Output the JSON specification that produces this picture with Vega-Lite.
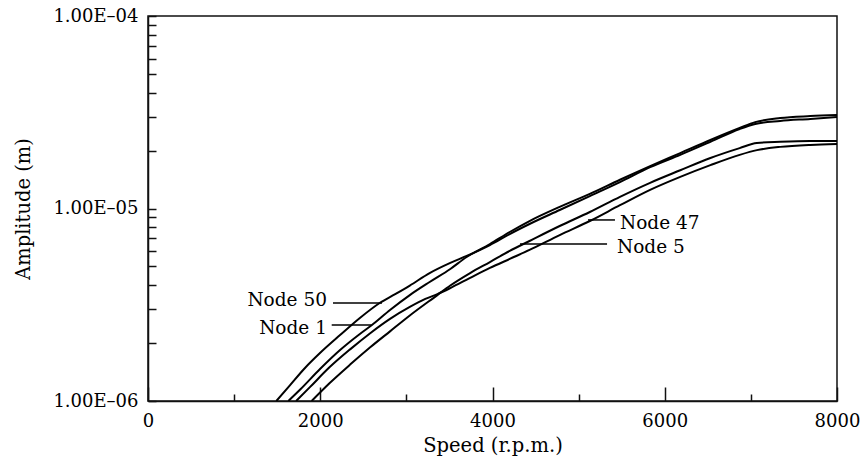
{
  "$schema": "https://vega.github.io/schema/vega-lite/v6.json",
  "width": 689,
  "height": 385,
  "autosize": "none",
  "padding": {"left": 148, "top": 16, "right": 24, "bottom": 64},
  "background": "white",
  "config": {
    "view": {"stroke": "#111", "strokeWidth": 1.5},
    "font": "DejaVu Serif",
    "text": {"font": "DejaVu Serif"},
    "axis": {
      "grid": false,
      "domainColor": "#111",
      "domainWidth": 1.5,
      "tickColor": "#111",
      "tickWidth": 1.5,
      "labelColor": "black",
      "titleColor": "black",
      "labelFont": "DejaVu Serif",
      "titleFont": "DejaVu Serif",
      "labelFontSize": 18,
      "titleFontSize": 19.5,
      "titleFontWeight": "normal",
      "labelOverlap": false,
      "labelBound": false,
      "labelFlush": false
    }
  },
  "datasets": {
    "curves": [
      {"node": "Node 50", "speed": 1490, "amplitude": 1.00e-6},
      {"node": "Node 50", "speed": 1650, "amplitude": 1.21e-6},
      {"node": "Node 50", "speed": 1820, "amplitude": 1.48e-6},
      {"node": "Node 50", "speed": 2000, "amplitude": 1.78e-6},
      {"node": "Node 50", "speed": 2230, "amplitude": 2.20e-6},
      {"node": "Node 50", "speed": 2460, "amplitude": 2.70e-6},
      {"node": "Node 50", "speed": 2690, "amplitude": 3.23e-6},
      {"node": "Node 50", "speed": 2870, "amplitude": 3.59e-6},
      {"node": "Node 50", "speed": 3040, "amplitude": 3.98e-6},
      {"node": "Node 50", "speed": 3270, "amplitude": 4.62e-6},
      {"node": "Node 50", "speed": 3510, "amplitude": 5.22e-6},
      {"node": "Node 50", "speed": 3700, "amplitude": 5.67e-6},
      {"node": "Node 50", "speed": 3970, "amplitude": 6.46e-6},
      {"node": "Node 50", "speed": 4200, "amplitude": 7.37e-6},
      {"node": "Node 50", "speed": 4430, "amplitude": 8.31e-6},
      {"node": "Node 50", "speed": 4780, "amplitude": 9.82e-6},
      {"node": "Node 50", "speed": 5130, "amplitude": 1.16e-5},
      {"node": "Node 50", "speed": 5480, "amplitude": 1.37e-5},
      {"node": "Node 50", "speed": 5830, "amplitude": 1.64e-5},
      {"node": "Node 50", "speed": 6180, "amplitude": 1.90e-5},
      {"node": "Node 50", "speed": 6530, "amplitude": 2.22e-5},
      {"node": "Node 50", "speed": 6870, "amplitude": 2.59e-5},
      {"node": "Node 50", "speed": 7050, "amplitude": 2.75e-5},
      {"node": "Node 50", "speed": 7340, "amplitude": 2.85e-5},
      {"node": "Node 50", "speed": 7690, "amplitude": 2.92e-5},
      {"node": "Node 50", "speed": 8000, "amplitude": 2.99e-5},
      {"node": "Node 1", "speed": 1630, "amplitude": 1.00e-6},
      {"node": "Node 1", "speed": 1770, "amplitude": 1.15e-6},
      {"node": "Node 1", "speed": 2000, "amplitude": 1.47e-6},
      {"node": "Node 1", "speed": 2230, "amplitude": 1.84e-6},
      {"node": "Node 1", "speed": 2460, "amplitude": 2.23e-6},
      {"node": "Node 1", "speed": 2600, "amplitude": 2.48e-6},
      {"node": "Node 1", "speed": 2810, "amplitude": 2.97e-6},
      {"node": "Node 1", "speed": 3040, "amplitude": 3.55e-6},
      {"node": "Node 1", "speed": 3270, "amplitude": 4.15e-6},
      {"node": "Node 1", "speed": 3510, "amplitude": 4.85e-6},
      {"node": "Node 1", "speed": 3700, "amplitude": 5.60e-6},
      {"node": "Node 1", "speed": 3970, "amplitude": 6.54e-6},
      {"node": "Node 1", "speed": 4200, "amplitude": 7.55e-6},
      {"node": "Node 1", "speed": 4430, "amplitude": 8.61e-6},
      {"node": "Node 1", "speed": 4780, "amplitude": 1.02e-5},
      {"node": "Node 1", "speed": 5130, "amplitude": 1.19e-5},
      {"node": "Node 1", "speed": 5480, "amplitude": 1.41e-5},
      {"node": "Node 1", "speed": 5830, "amplitude": 1.66e-5},
      {"node": "Node 1", "speed": 6180, "amplitude": 1.94e-5},
      {"node": "Node 1", "speed": 6530, "amplitude": 2.27e-5},
      {"node": "Node 1", "speed": 6870, "amplitude": 2.62e-5},
      {"node": "Node 1", "speed": 7050, "amplitude": 2.81e-5},
      {"node": "Node 1", "speed": 7340, "amplitude": 2.95e-5},
      {"node": "Node 1", "speed": 7690, "amplitude": 3.02e-5},
      {"node": "Node 1", "speed": 8000, "amplitude": 3.06e-5},
      {"node": "Node 47", "speed": 1720, "amplitude": 1.00e-6},
      {"node": "Node 47", "speed": 1880, "amplitude": 1.18e-6},
      {"node": "Node 47", "speed": 2110, "amplitude": 1.50e-6},
      {"node": "Node 47", "speed": 2350, "amplitude": 1.86e-6},
      {"node": "Node 47", "speed": 2580, "amplitude": 2.25e-6},
      {"node": "Node 47", "speed": 2810, "amplitude": 2.67e-6},
      {"node": "Node 47", "speed": 3040, "amplitude": 3.08e-6},
      {"node": "Node 47", "speed": 3220, "amplitude": 3.39e-6},
      {"node": "Node 47", "speed": 3360, "amplitude": 3.59e-6},
      {"node": "Node 47", "speed": 3510, "amplitude": 3.86e-6},
      {"node": "Node 47", "speed": 3740, "amplitude": 4.36e-6},
      {"node": "Node 47", "speed": 3970, "amplitude": 4.91e-6},
      {"node": "Node 47", "speed": 4200, "amplitude": 5.47e-6},
      {"node": "Node 47", "speed": 4430, "amplitude": 6.09e-6},
      {"node": "Node 47", "speed": 4780, "amplitude": 7.28e-6},
      {"node": "Node 47", "speed": 5130, "amplitude": 8.61e-6},
      {"node": "Node 47", "speed": 5480, "amplitude": 1.04e-5},
      {"node": "Node 47", "speed": 5830, "amplitude": 1.25e-5},
      {"node": "Node 47", "speed": 6180, "amplitude": 1.46e-5},
      {"node": "Node 47", "speed": 6530, "amplitude": 1.68e-5},
      {"node": "Node 47", "speed": 6870, "amplitude": 1.90e-5},
      {"node": "Node 47", "speed": 7070, "amplitude": 2.01e-5},
      {"node": "Node 47", "speed": 7340, "amplitude": 2.09e-5},
      {"node": "Node 47", "speed": 7690, "amplitude": 2.14e-5},
      {"node": "Node 47", "speed": 8000, "amplitude": 2.16e-5},
      {"node": "Node 5", "speed": 1900, "amplitude": 1.00e-6},
      {"node": "Node 5", "speed": 2110, "amplitude": 1.24e-6},
      {"node": "Node 5", "speed": 2350, "amplitude": 1.55e-6},
      {"node": "Node 5", "speed": 2580, "amplitude": 1.90e-6},
      {"node": "Node 5", "speed": 2810, "amplitude": 2.30e-6},
      {"node": "Node 5", "speed": 3040, "amplitude": 2.78e-6},
      {"node": "Node 5", "speed": 3360, "amplitude": 3.55e-6},
      {"node": "Node 5", "speed": 3510, "amplitude": 3.98e-6},
      {"node": "Node 5", "speed": 3740, "amplitude": 4.62e-6},
      {"node": "Node 5", "speed": 3970, "amplitude": 5.27e-6},
      {"node": "Node 5", "speed": 4200, "amplitude": 6.02e-6},
      {"node": "Node 5", "speed": 4430, "amplitude": 6.78e-6},
      {"node": "Node 5", "speed": 4780, "amplitude": 8.11e-6},
      {"node": "Node 5", "speed": 5130, "amplitude": 9.59e-6},
      {"node": "Node 5", "speed": 5480, "amplitude": 1.15e-5},
      {"node": "Node 5", "speed": 5830, "amplitude": 1.36e-5},
      {"node": "Node 5", "speed": 6180, "amplitude": 1.58e-5},
      {"node": "Node 5", "speed": 6530, "amplitude": 1.83e-5},
      {"node": "Node 5", "speed": 6870, "amplitude": 2.06e-5},
      {"node": "Node 5", "speed": 7070, "amplitude": 2.19e-5},
      {"node": "Node 5", "speed": 7340, "amplitude": 2.22e-5},
      {"node": "Node 5", "speed": 7690, "amplitude": 2.24e-5},
      {"node": "Node 5", "speed": 8000, "amplitude": 2.24e-5}
    ],
    "notes": [
      {"label": "Node 50", "side": "left", "text_at": 2078, "text_amp": 3.35e-6, "lead_from": 2148, "lead_to": 2717, "amplitude": 3.23e-6},
      {"label": "Node 1", "side": "left", "text_at": 2078, "text_amp": 2.39e-6, "lead_from": 2133, "lead_to": 2597, "amplitude": 2.48e-6},
      {"label": "Node 47", "side": "right", "text_at": 5480, "text_amp": 8.41e-6, "lead_from": 5109, "lead_to": 5422, "amplitude": 8.72e-6},
      {"label": "Node 5", "side": "right", "text_at": 5446, "text_amp": 6.31e-6, "lead_from": 4319, "lead_to": 5330, "amplitude": 6.54e-6}
    ]
  },
  "layer": [
    {
      "data": {"name": "curves"},
      "mark": {"type": "line", "color": "black", "strokeWidth": 2, "interpolate": "monotone", "clip": true},
      "encoding": {
        "x": {
          "field": "speed", "type": "quantitative", "title": "Speed (r.p.m.)",
          "scale": {"domain": [0, 8000], "nice": false, "zero": false},
          "axis": {
            "values": [0, 1000, 2000, 3000, 4000, 5000, 6000, 7000, 8000],
            "format": "d",
            "labelExpr": "datum.value % 2000 === 0 ? datum.label : ''",
            "tickSize": {"condition": {"test": "datum.value % 2000 === 0", "value": -14}, "value": -7},
            "labelPadding": 25,
            "titleY": 44,
            "titleBaseline": "middle"
          }
        },
        "y": {
          "field": "amplitude", "type": "quantitative", "title": "Amplitude (m)",
          "scale": {"type": "log", "domain": [1e-6, 1e-4], "nice": false},
          "axis": {
            "values": [1e-6, 2e-6, 3e-6, 4e-6, 5e-6, 6e-6, 7e-6, 8e-6, 9e-6, 1e-5, 2e-5, 3e-5, 4e-5, 5e-5, 6e-5, 7e-5, 8e-5, 9e-5, 1e-4],
            "labelExpr": "datum.value == 0.0001 ? '1.00E–04' : (datum.value == 0.00001 ? '1.00E–05' : (datum.value == 0.000001 ? '1.00E–06' : ''))",
            "tickSize": -8,
            "labelPadding": 18,
            "titleX": -125,
            "titleBaseline": "middle"
          }
        },
        "detail": {"field": "node"}
      }
    },
    {
      "data": {"name": "notes"},
      "mark": {"type": "rule", "color": "black", "strokeWidth": 1.5},
      "encoding": {
        "x": {"field": "lead_from", "type": "quantitative", "title": "Speed (r.p.m.)"},
        "x2": {"field": "lead_to"},
        "y": {"field": "amplitude", "type": "quantitative", "title": "Amplitude (m)"}
      }
    },
    {
      "data": {"name": "notes"},
      "transform": [{"filter": "datum.side === 'left'"}],
      "mark": {"type": "text", "align": "right", "baseline": "middle", "fontSize": 18.5, "font": "DejaVu Serif", "color": "black"},
      "encoding": {
        "x": {"field": "text_at", "type": "quantitative", "title": "Speed (r.p.m.)"},
        "y": {"field": "text_amp", "type": "quantitative", "title": "Amplitude (m)"},
        "text": {"field": "label"}
      }
    },
    {
      "data": {"name": "notes"},
      "transform": [{"filter": "datum.side === 'right'"}],
      "mark": {"type": "text", "align": "left", "baseline": "middle", "fontSize": 18.5, "font": "DejaVu Serif", "color": "black"},
      "encoding": {
        "x": {"field": "text_at", "type": "quantitative", "title": "Speed (r.p.m.)"},
        "y": {"field": "text_amp", "type": "quantitative", "title": "Amplitude (m)"},
        "text": {"field": "label"}
      }
    }
  ]
}
